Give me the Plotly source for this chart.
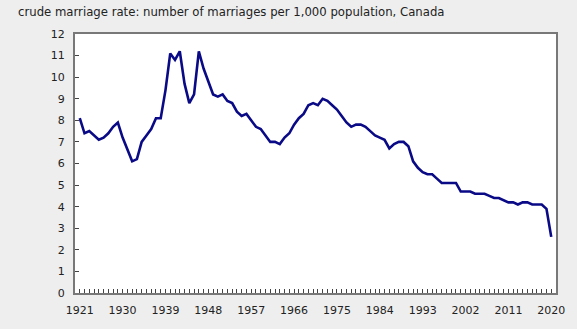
import plotly.graph_objects as go

# Crude marriage rate, Canada (marriages per 1,000 population)
years = list(range(1921, 2021))
rate = [
    8.1, 7.4, 7.5, 7.3, 7.1, 7.2, 7.4, 7.7, 7.9, 7.2,   # 1921-1930
    6.6, 6.1, 6.2, 7.0, 7.3, 7.6, 8.1, 8.1, 9.4, 11.1,  # 1931-1940
    10.8, 11.2, 9.7, 8.8, 9.2, 11.2, 10.4, 9.8, 9.2, 9.1,  # 1941-1950
    9.2, 8.9, 8.8, 8.4, 8.2, 8.3, 8.0, 7.7, 7.6, 7.3,   # 1951-1960
    7.0, 7.0, 6.9, 7.2, 7.4, 7.8, 8.1, 8.3, 8.7, 8.8,   # 1961-1970
    8.7, 9.0, 8.9, 8.7, 8.5, 8.2, 7.9, 7.7, 7.8, 7.8,   # 1971-1980
    7.7, 7.5, 7.3, 7.2, 7.1, 6.7, 6.9, 7.0, 7.0, 6.8,   # 1981-1990
    6.1, 5.8, 5.6, 5.5, 5.5, 5.3, 5.1, 5.1, 5.1, 5.1,   # 1991-2000
    4.7, 4.7, 4.7, 4.6, 4.6, 4.6, 4.5, 4.4, 4.4, 4.3,   # 2001-2010
    4.2, 4.2, 4.1, 4.2, 4.2, 4.1, 4.1, 4.1, 3.9, 2.6,   # 2011-2020
]
x_tick_years = list(range(1921, 2021, 9))
y_ticks = list(range(0, 13))
title_text = "crude marriage rate: number of marriages per 1,000 population, Canada"

W, H = 577, 329
FONT = "DejaVu Sans"
AXIS_GREY = "#787878"

fig = go.Figure(
    go.Scatter(
        x=years,
        y=rate,
        mode="lines",
        line=dict(color="#0a0a86", width=2.6),
        hoverinfo="x+y",
    )
)

fig.update_layout(
    width=W,
    height=H,
    margin=dict(l=75, r=18, t=34, b=35, pad=0),
    paper_bgcolor="#eeeeee",
    plot_bgcolor="#ffffff",
    showlegend=False,
    font=dict(family=FONT, size=11, color="#222222"),
    title=dict(
        text=title_text,
        font=dict(family=FONT, size=11.7, color="#222222"),
        xref="container", yref="container",
        x=18 / W, xanchor="left",
        y=1 - 12 / H, yanchor="middle",
    ),
)

fig.update_xaxes(
    range=[1920, 2021],
    tickmode="array",
    tickvals=x_tick_years,
    ticktext=[str(v) for v in x_tick_years],
    ticks="inside",
    ticklen=4,
    tickwidth=1,
    tickcolor="#444444",
    minor=dict(ticks="inside", ticklen=4, tickwidth=1, tickcolor="#444444",
               tickmode="linear", tick0=1921, dtick=1, showgrid=False),
    showgrid=False,
    zeroline=False,
    showline=True,
    linecolor=AXIS_GREY,
    linewidth=2,
    mirror=True,
    ticklabelstandoff=6,
    tickfont=dict(family=FONT, size=11, color="#222222"),
)

fig.update_yaxes(
    range=[0, 12],
    tickmode="array",
    tickvals=y_ticks,
    ticks="inside",
    ticklen=4,
    tickwidth=1,
    tickcolor="#444444",
    showgrid=False,
    zeroline=False,
    showline=True,
    linecolor=AXIS_GREY,
    linewidth=2,
    mirror=True,
    ticklabelstandoff=6,
    tickfont=dict(family=FONT, size=11, color="#222222"),
)

fig.write_html("out.html")
